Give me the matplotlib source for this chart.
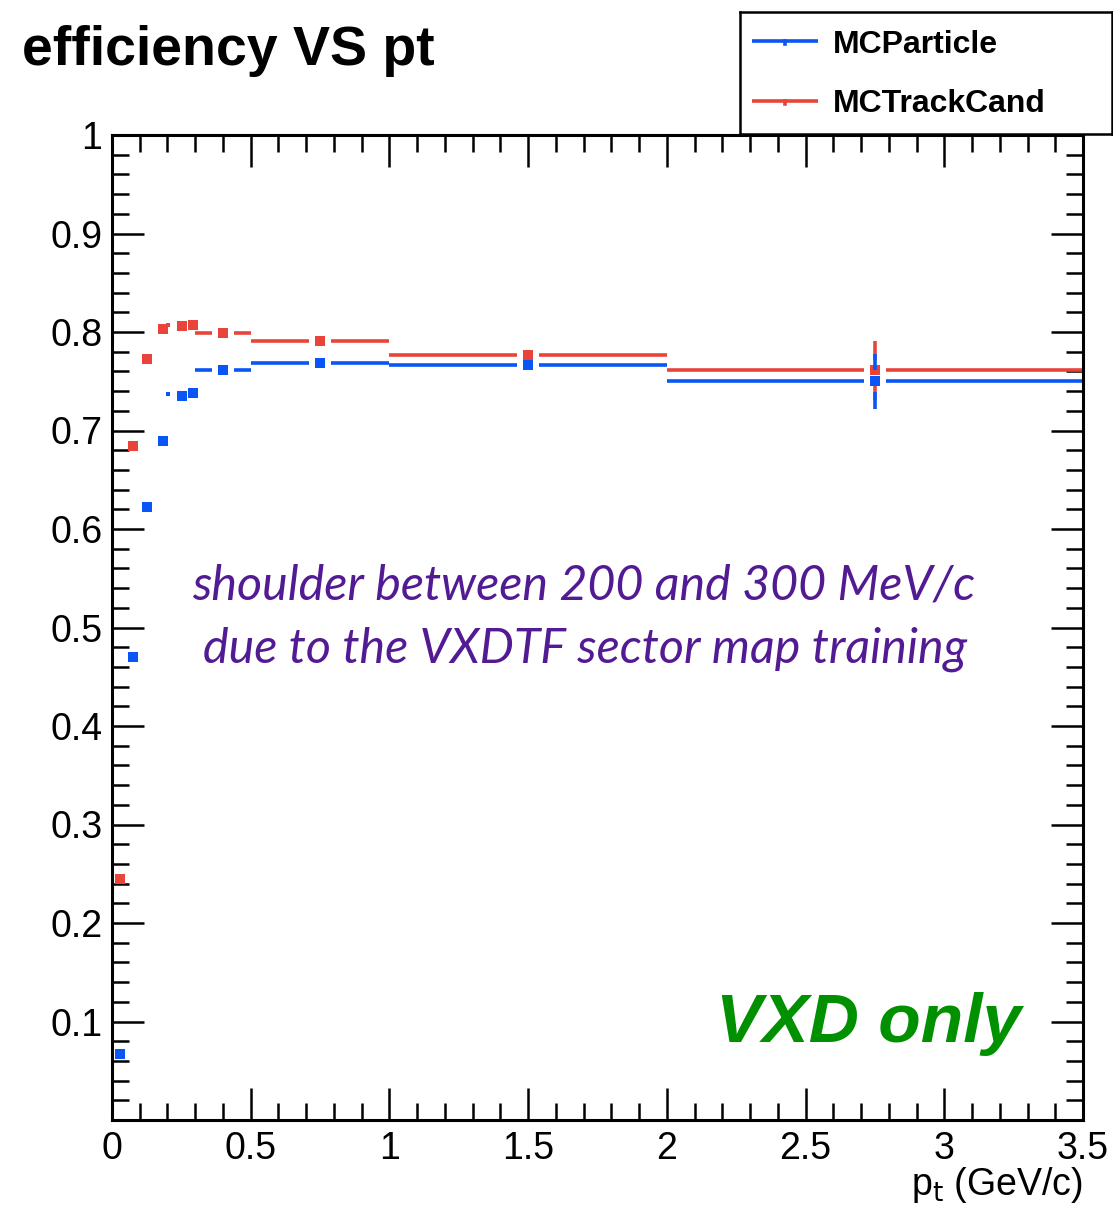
import numpy as np
import matplotlib.pyplot as plt
from matplotlib.ticker import MultipleLocator

plt.rcParams['font.family'] = ['Liberation Sans', 'DejaVu Sans']

# pt bins: centre and half width (GeV/c); narrow low-pt bins drawn as markers only
pt_center = [0.030, 0.076, 0.126, 0.184, 0.202, 0.252, 0.293, 0.40, 0.75, 1.50, 2.75]
pt_halfwidth = [0.0, 0.0, 0.0, 0.0, 0.0, 0.0, 0.0, 0.10, 0.25, 0.50, 0.75]

eff_mcparticle = [0.067, 0.470, 0.622, 0.689, 0.737, 0.735, 0.738, 0.761, 0.769, 0.767, 0.750]
err_mcparticle = [0.004, 0.005, 0.005, 0.005, 0.004, 0.004, 0.004, 0.004, 0.003, 0.003, 0.028]

eff_mctrackcand = [0.245, 0.684, 0.773, 0.803, 0.807, 0.806, 0.807, 0.799, 0.791, 0.777, 0.761]
err_mctrackcand = [0.004, 0.005, 0.005, 0.005, 0.004, 0.004, 0.004, 0.004, 0.003, 0.003, 0.030]

series_labels = ['MCParticle', 'MCTrackCand']

BLUE = '#0a55f5'
RED = '#e8443a'

W, H = 1113, 1208
fig = plt.figure(figsize=(W / 100, H / 100), dpi=100)

def px_box(x0, y0, x1, y1):
    # pixel box (top-left origin) -> figure fraction rect
    return [x0 / W, 1 - y1 / H, (x1 - x0) / W, (y1 - y0) / H]

ax = fig.add_axes(px_box(112, 135, 1083, 1120))
ax.set_xlim(0, 3.5)
ax.set_ylim(0, 1)

gap_x = 0.040   # root leaves a gap around the marker
gap_y = 0.011

def draw_eff(ax, xs, hws, ys, errs, color):
    for i, (x, hw, y, e) in enumerate(zip(xs, hws, ys, errs)):
        if hw > gap_x:
            ax.hlines(y, x - hw, x - gap_x, color=color, lw=2.6)
            ax.hlines(y, x + gap_x, x + hw, color=color, lw=2.6)
        if e > gap_y:
            ax.vlines(x, y - e, y - gap_y, color=color, lw=2.6)
            ax.vlines(x, y + gap_y, y + e, color=color, lw=2.6)
        ms = 3.5 if i == 4 else 6.8
        ax.plot(x, y, 's', color=color, ms=ms, mec=color, mew=0)

draw_eff(ax, pt_center, pt_halfwidth, eff_mctrackcand, err_mctrackcand, RED)
draw_eff(ax, pt_center, pt_halfwidth, eff_mcparticle, err_mcparticle, BLUE)

# ROOT-like frame and ticks
for s in ax.spines.values():
    s.set_linewidth(2.2)
ax.xaxis.set_major_locator(MultipleLocator(0.5))
ax.xaxis.set_minor_locator(MultipleLocator(0.1))
ax.set_yticks([0.1, 0.2, 0.3, 0.4, 0.5, 0.6, 0.7, 0.8, 0.9, 1.0])
ax.set_yticklabels(['0.1', '0.2', '0.3', '0.4', '0.5', '0.6', '0.7', '0.8', '0.9', '1'])
ax.yaxis.set_minor_locator(MultipleLocator(0.02))
ax.set_xticks([0, 0.5, 1, 1.5, 2, 2.5, 3, 3.5])
ax.set_xticklabels(['0', '0.5', '1', '1.5', '2', '2.5', '3', '3.5'])
ax.tick_params(which='both', direction='in', top=True, right=True, width=1.8,
               labelsize=27, colors='black')
ax.tick_params(which='major', length=23)
ax.tick_params(which='minor', length=12)
ax.tick_params(axis='x', pad=8)
ax.tick_params(axis='y', pad=7)

fig.text(1083 / W, 1 - 1195 / H, r'p$_{\rm t}$ (GeV/c)', fontsize=27,
         ha='right', va='baseline')

fig.text(22 / W, 1 - 65 / H, 'efficiency VS pt', fontsize=40, fontweight='bold',
         ha='left', va='baseline')

# legend box
lax = fig.add_axes(px_box(740, 12, 1112, 134))
lax.set_xlim(0, 372)
lax.set_ylim(122, 0)
lax.set_xticks([])
lax.set_yticks([])
for s in lax.spines.values():
    s.set_linewidth(1.8)
for y_line, y_text, color, label in zip([29, 89], [41, 100], [BLUE, RED], series_labels):
    lax.plot([12, 78], [y_line, y_line], color=color, lw=2.6, solid_capstyle='butt')
    lax.plot([45, 45], [y_line, y_line + 3], color=color, lw=2.6)
    lax.text(93, y_text, label, fontsize=23, fontweight='bold', ha='left', va='baseline')

ax.text(0.486, 1 - (600 - 135) / 985, 'shoulder between 200 and 300 MeV/c',
        transform=ax.transAxes, fontsize=34.8, style='italic', color='#521b93',
        family=['Lato', 'DejaVu Sans'], ha='center', va='baseline')
ax.text(0.487, 1 - (663 - 135) / 985, 'due to the VXDTF sector map training',
        transform=ax.transAxes, fontsize=34.8, style='italic', color='#521b93',
        family=['Lato', 'DejaVu Sans'], ha='center', va='baseline')

fig.text(716 / W, 1 - 1042 / H, 'VXD only', fontsize=50, fontweight='bold',
         style='italic', color='#009000', ha='left', va='baseline')

fig.savefig('out.png', dpi=100)
